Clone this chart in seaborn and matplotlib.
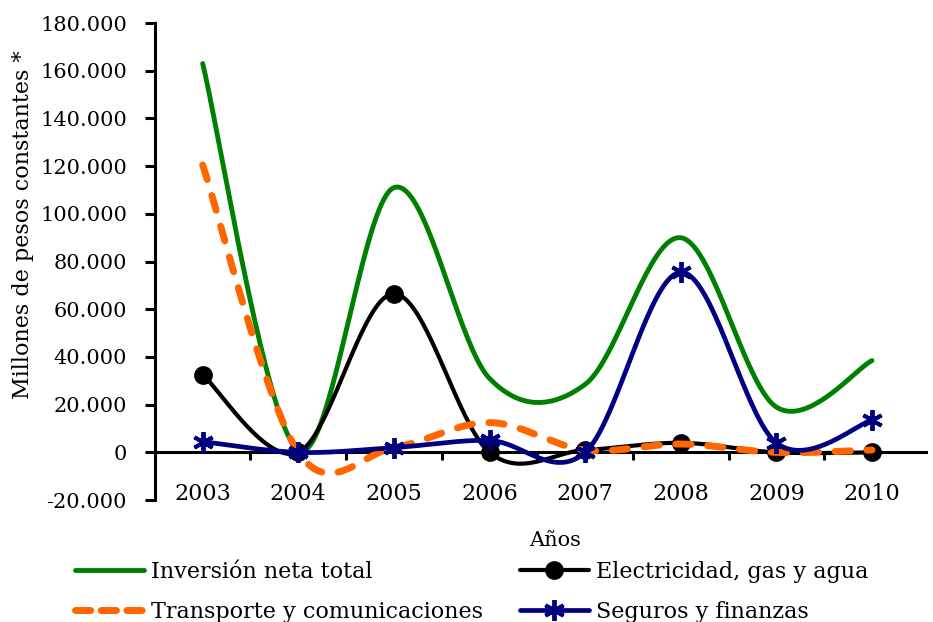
import numpy as np
import pandas as pd
import matplotlib
matplotlib.use("Agg")
import matplotlib.pyplot as plt
import seaborn as sns
from matplotlib.lines import Line2D
from matplotlib.ticker import FuncFormatter, FixedLocator

# Data (millones de pesos constantes)
years = ["2003", "2004", "2005", "2006", "2007", "2008", "2009", "2010"]
inversion_total = [163000, 1000, 111000, 31000, 28500, 90000, 19000, 38500]
electricidad = [32500, 0, 66500, 0, 1000, 4000, 0, 0]
transporte = [120500, 0, 2000, 12500, 1000, 3500, 0, 1000]
seguros = [4500, 0, 2000, 5000, 0, 75500, 4000, 13500]

y_ticks = list(range(-20000, 180001, 20000))


def smooth(xv, yv, n=40):
    # Excel-like smoothed line (Catmull-Rom -> cubic Bezier)
    xv = np.asarray(xv, float)
    yv = np.asarray(yv, float)
    px = np.concatenate([[xv[0]], xv, [xv[-1]]])
    py = np.concatenate([[yv[0]], yv, [yv[-1]]])
    t = np.linspace(0, 1, n)
    xs, ys = [], []
    for i in range(1, len(px) - 2):
        p0 = np.array([px[i], py[i]])
        p3 = np.array([px[i + 1], py[i + 1]])
        c1 = p0 + (np.array([px[i + 1], py[i + 1]]) - np.array([px[i - 1], py[i - 1]])) / 6
        c2 = p3 - (np.array([px[i + 2], py[i + 2]]) - np.array([px[i], py[i]])) / 6
        b = (np.outer((1 - t) ** 3, p0) + np.outer(3 * (1 - t) ** 2 * t, c1)
             + np.outer(3 * (1 - t) * t ** 2, c2) + np.outer(t ** 3, p3))
        xs.extend(b[:, 0])
        ys.extend(b[:, 1])
    return np.array(xs), np.array(ys)


sns.set_style("white")
plt.rcParams['font.family'] = ['DejaVu Serif']
plt.rcParams['text.color'] = 'black'
plt.rcParams['axes.labelcolor'] = 'black'
plt.rcParams['xtick.color'] = 'black'
plt.rcParams['ytick.color'] = 'black'

fig = plt.figure(figsize=(9.33, 6.22), dpi=100)
ax = fig.add_axes([0.166, 0.196, 0.827, 0.767])

xpos = np.arange(len(years))
series = [
    ("Inversión neta total", inversion_total, "#008000", 3.5, None),
    ("Electricidad, gas y agua", electricidad, "black", 3.0, "o"),
    ("Transporte y comunicaciones", transporte, "#FF6600", 5.0, None),
    ("Seguros y finanzas", seguros, "#000080", 3.4, (6, 2, 0)),
]

handles = {}
for name, vals, color, lw, mk in series:
    sx, sy = smooth(xpos, vals)
    df = pd.DataFrame({"x": sx, "y": sy})
    sns.lineplot(data=df, x="x", y="y", ax=ax, color=color, linewidth=lw,
                 sort=False, estimator=None)
    line = ax.lines[-1]
    if name.startswith("Transporte"):
        line.set_linestyle((0, (2.2, 2.4)))
        line.set_dash_capstyle("round")
    if mk == "o":
        ax.plot(xpos, vals, ls="none", marker="o", markersize=12.5, color=color)
    elif mk is not None:
        ax.plot(xpos, vals, ls="none", marker=mk, markersize=15,
                markeredgewidth=2.8, color=color)
    h = Line2D([], [], color=color, linewidth=lw,
               marker=mk if mk else None, markersize=12.5 if mk == "o" else 15,
               markeredgewidth=2.8 if mk and mk != "o" else 1)
    if name.startswith("Transporte"):
        h.set_linestyle((0, (2.2, 1.5)))
        h.set_dash_capstyle("round")
    handles[name] = h

ax.set_xlim(-0.5, 7.57)
ax.set_ylim(-20000, 180000)
ax.yaxis.set_major_locator(FixedLocator(y_ticks))
ax.yaxis.set_major_formatter(FuncFormatter(lambda v, p: f"{int(v):,}".replace(",", ".")))
ax.set_xticks(xpos)
ax.set_xticklabels(years)
ax.xaxis.set_minor_locator(FixedLocator(np.arange(0.5, 7, 1)))

for s in ["top", "right"]:
    ax.spines[s].set_visible(False)
ax.spines["bottom"].set_position(("data", 0))
ax.spines["bottom"].set_linewidth(2.2)
ax.spines["left"].set_linewidth(2.2)
ax.spines["bottom"].set_color("black")
ax.spines["left"].set_color("black")
ax.spines["bottom"].set_zorder(1)

ax.tick_params(axis="y", direction="out", length=7, width=2.2, labelsize=15, pad=13, left=True)
ax.tick_params(axis="x", which="major", length=0, labelsize=16, pad=22)
ax.tick_params(axis="x", which="minor", direction="out", length=6, width=2.2, bottom=True)

ax.set_ylabel("Millones de pesos constantes *", fontsize=16)
ax.yaxis.set_label_coords(34 / 933, 1 - 225 / 622, transform=fig.transFigure)
ax.set_xlabel("Años", fontsize=15)
ax.xaxis.set_label_coords(0.519, -0.065)

leg_kw = dict(frameon=False, fontsize=16, handlelength=3.1, handletextpad=0.35,
              labelspacing=0.8, borderpad=0, borderaxespad=0, loc="upper left")
fig.legend([handles["Inversión neta total"], handles["Transporte y comunicaciones"]],
           ["Inversión neta total", "Transporte y comunicaciones"],
           bbox_to_anchor=(0.08, 0.098), **leg_kw)
fig.legend([handles["Electricidad, gas y agua"], handles["Seguros y finanzas"]],
           ["Electricidad, gas y agua", "Seguros y finanzas"],
           bbox_to_anchor=(0.557, 0.098), **leg_kw)

fig.savefig("out.png", dpi=100)
